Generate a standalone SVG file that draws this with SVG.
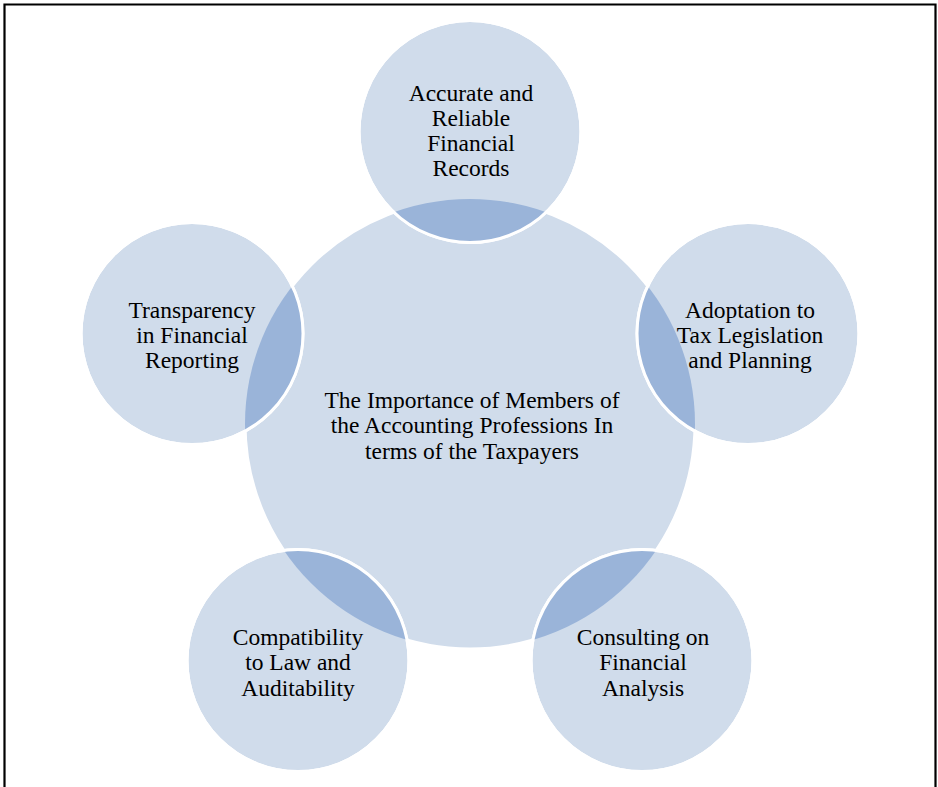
<svg xmlns="http://www.w3.org/2000/svg" width="938" height="787" viewBox="0 0 938 787">
<style>
.c{fill:#D0DCEB;stroke:#FFFFFF;stroke-width:3}
.s{fill:none;stroke:#FFFFFF;stroke-width:3}
.l{fill:#9AB4D9}
text{font-family:"Liberation Serif","Times New Roman",serif;font-size:23.5px;fill:#000;text-anchor:middle}
</style>
<defs>
<clipPath id="big"><circle cx="470" cy="424" r="225"/></clipPath>
</defs>
<rect x="0" y="0" width="938" height="787" fill="#FFFFFF"/>
<path d="M4.5 800 V4.5 H935.5 V800" fill="none" stroke="#000" stroke-width="2.2"/>
<g id="center">
<circle class="c" cx="470" cy="424" r="225"/>
</g>
<g id="n-top">
<circle class="c" cx="470" cy="131.5" r="111"/>
</g>
<g id="n-right">
<circle class="c" cx="748" cy="333.6" r="111"/>
</g>
<g id="n-bottom-right">
<circle class="c" cx="642" cy="660.6" r="111"/>
</g>
<g id="n-bottom-left">
<circle class="c" cx="298" cy="660.6" r="111"/>
</g>
<g id="n-left">
<circle class="c" cx="192" cy="333.6" r="111"/>
</g>
<g id="lenses" clip-path="url(#big)">
<circle class="l" cx="470" cy="131.5" r="111"/>
<circle class="l" cx="748" cy="333.6" r="111"/>
<circle class="l" cx="642" cy="660.6" r="111"/>
<circle class="l" cx="298" cy="660.6" r="111"/>
<circle class="l" cx="192" cy="333.6" r="111"/>
</g>
<g id="outlines">
<circle class="s" cx="470" cy="131.5" r="111"/>
<circle class="s" cx="748" cy="333.6" r="111"/>
<circle class="s" cx="642" cy="660.6" r="111"/>
<circle class="s" cx="298" cy="660.6" r="111"/>
<circle class="s" cx="192" cy="333.6" r="111"/>
</g>
<g id="labels">
<text x="471" y="101">Accurate and</text>
<text x="471" y="126">Reliable</text>
<text x="471" y="151">Financial</text>
<text x="471" y="176">Records</text>
<text x="192" y="318">Transparency</text>
<text x="192" y="343">in Financial</text>
<text x="192" y="368">Reporting</text>
<text x="750" y="318">Adoptation to</text>
<text x="750" y="343">Tax Legislation</text>
<text x="750" y="368">and Planning</text>
<text x="472" y="408">The Importance of Members of</text>
<text x="472" y="433">the Accounting Professions In</text>
<text x="472" y="459">terms of the Taxpayers</text>
<text x="298" y="645">Compatibility</text>
<text x="298" y="670">to Law and</text>
<text x="298" y="696">Auditability</text>
<text x="643" y="645">Consulting on</text>
<text x="643" y="670">Financial</text>
<text x="643" y="696">Analysis</text>
</g>
</svg>
